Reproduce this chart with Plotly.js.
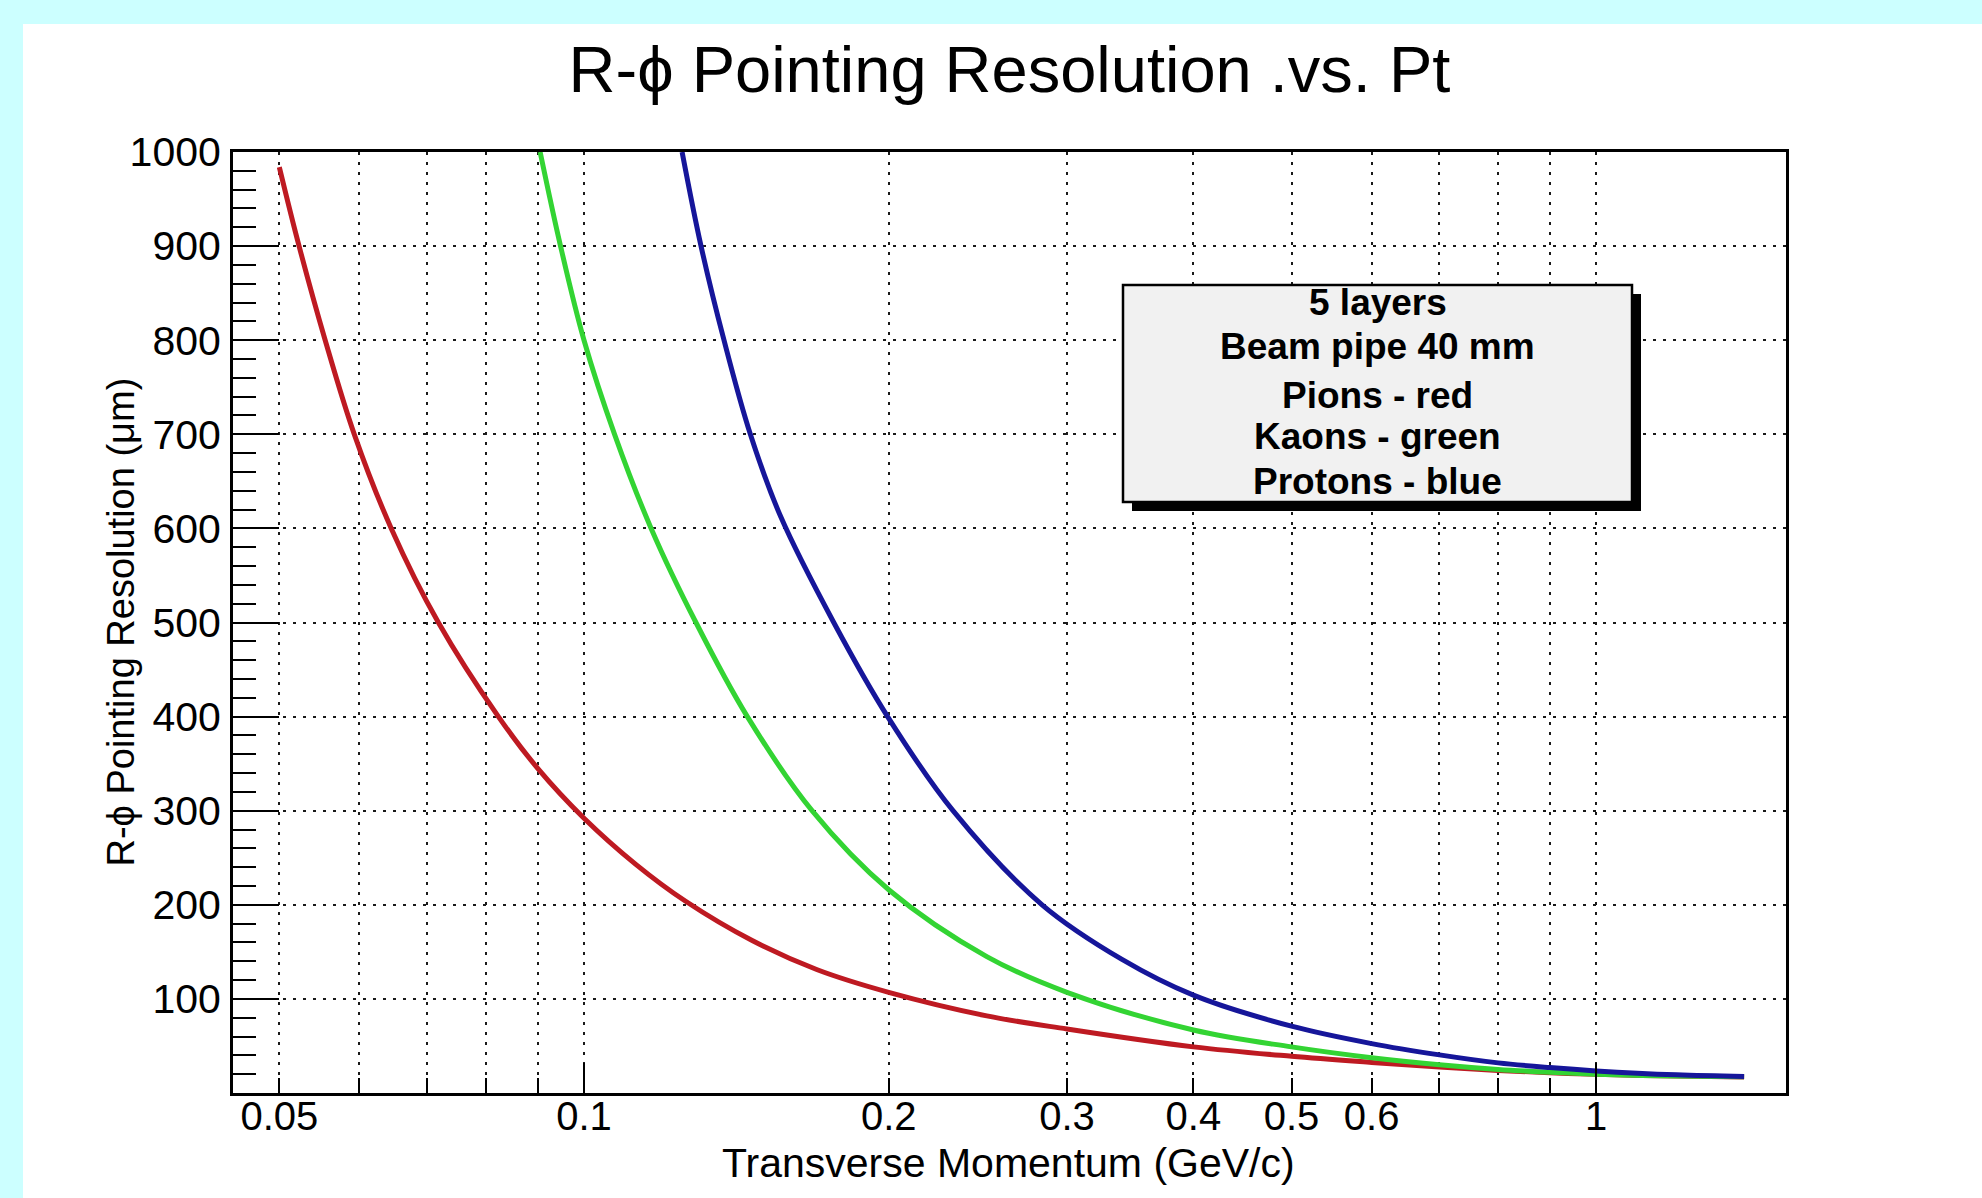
<!DOCTYPE html>
<html>
<head>
<meta charset="utf-8">
<script src="https://cdn.plot.ly/plotly-3.0.1.min.js"></script>
<style>
html,body{margin:0;padding:0;background:#ccffff;}
#chart{width:1982px;height:1198px;}
</style>
</head>
<body>
<div id="chart"></div>
<script>
// ---- data ----
const pionPt  = [0.05, 0.0523, 0.0555, 0.0593, 0.0645, 0.0718, 0.0823, 0.09, 0.1, 0.1125, 0.1259, 0.1466, 0.17, 0.2, 0.25, 0.3, 0.4, 0.5, 0.6, 0.7, 0.8, 0.9, 1.0, 1.2, 1.4];
const pionRes = [984, 900, 800, 700, 600, 500, 400, 345, 292, 243, 204, 162, 131, 107, 82, 68, 49, 39, 32.5, 27.5, 24, 21.5, 19.8, 18, 17];

const kaonPt  = [0.0905, 0.0948, 0.1, 0.1072, 0.1165, 0.129, 0.145, 0.168, 0.2, 0.25, 0.3, 0.4, 0.5, 0.6, 0.7, 0.8, 0.9, 1.0, 1.2, 1.4];
const kaonRes = [1000, 900, 800, 700, 600, 500, 400, 300, 216, 145, 107, 67, 49, 37.5, 30, 25, 22, 20, 18, 17.2];

const protonPt  = [0.125, 0.1305, 0.1375, 0.146, 0.1565, 0.1765, 0.1995, 0.2315, 0.2835, 0.34, 0.4, 0.5, 0.6, 0.7, 0.8, 0.9, 1.0, 1.2, 1.4];
const protonRes = [1000, 900, 800, 700, 612, 500, 400, 300, 200, 142, 104, 71, 52.5, 40.5, 32, 27, 23.5, 19.3, 17.5];

const xTickVals = [0.05, 0.06, 0.07, 0.08, 0.09, 0.1, 0.2, 0.3, 0.4, 0.5, 0.6, 0.7, 0.8, 0.9, 1];
const xTickText = ['0.05', '', '', '', '', '0.1', '0.2', '0.3', '0.4', '0.5', '0.6', '', '', '', '1'];
const xDecadeTicks = [0.1, 1];
const yTickVals = [100, 200, 300, 400, 500, 600, 700, 800, 900, 1000];
const yTickText = ['100', '200', '300', '400', '500', '600', '700', '800', '900', '1000'];

const titleText = 'R-\u03d5 Pointing Resolution .vs. Pt';
const xTitle = 'Transverse Momentum (GeV/c)';
const yTitle = 'R-\u03d5 Pointing Resolution (\u03bcm)';
const boxLines = ['5 layers', 'Beam pipe 40 mm', 'Pions - red', 'Kaons - green', 'Protons - blue'];

// ---- helpers ----
const FONT = 'Liberation Sans, Arial, Helvetica, sans-serif';
const yMinor = [];
for (let v = 20; v < 1000; v += 20) { if (v % 100 !== 0) yMinor.push(v); }

const xRange = [Math.log10(0.045), Math.log10(1.54)];

const W = 1982, H = 1198, ML = 233, MR = 196, MT = 152, MB = 105;
const PW = W - ML - MR, PH = H - MT - MB;
const px2x = p => (p - ML) / PW;
const py2y = p => (H - MB - p) / PH;

function curve(x, y, color) {
  return {x: x, y: y, type: 'scatter', mode: 'lines',
          line: {color: color, width: 5, shape: 'spline', smoothing: 1.0},
          hoverinfo: 'x+y'};
}

const traces = [
  curve(pionPt, pionRes, '#be1a22'),
  curve(kaonPt, kaonRes, '#33d433'),
  curve(protonPt, protonRes, '#16169a'),
  {x: [], y: [], xaxis: 'x2', yaxis: 'y', type: 'scatter', mode: 'lines', hoverinfo: 'skip'}
];

const gridCommon = {showgrid: true, gridcolor: '#1a1a1a', gridwidth: 2, griddash: '3px,7px'};

const boxL = 1123, boxR = 1632, boxT = 285, boxB = 502, sh = 9;
const lineY = [302, 346, 395, 437, 481];

const shapes = [
  {type: 'rect', xref: 'paper', yref: 'paper', layer: 'below',
   x0: px2x(23), x1: px2x(1990), y0: py2y(24), y1: py2y(1205),
   fillcolor: 'white', line: {width: 0}},
  {type: 'rect', xref: 'paper', yref: 'paper', layer: 'above',
   x0: px2x(boxL + sh), x1: px2x(boxR + sh), y0: py2y(boxB + sh), y1: py2y(boxT + sh),
   fillcolor: 'black', line: {width: 0}},
  {type: 'rect', xref: 'paper', yref: 'paper', layer: 'above',
   x0: px2x(boxL), x1: px2x(boxR), y0: py2y(boxB), y1: py2y(boxT),
   fillcolor: '#f1f1f1', line: {color: 'black', width: 2.5}}
];

const annotations = [
  {text: yTitle, xref: 'paper', yref: 'paper', x: px2x(120), y: 0.5,
   xanchor: 'center', yanchor: 'middle', textangle: -90, showarrow: false,
   font: {family: FONT, size: 38, color: 'black'}},
  {text: xTitle, xref: 'paper', yref: 'paper', x: px2x(1008), y: py2y(1163),
   xanchor: 'center', yanchor: 'middle', showarrow: false,
   font: {family: FONT, size: 41, color: 'black'}}
];
boxLines.forEach((t, i) => {
  annotations.push({text: '<b>' + t + '</b>', xref: 'paper', yref: 'paper',
    x: px2x((boxL + boxR) / 2), y: py2y(lineY[i]), xanchor: 'center', yanchor: 'middle',
    showarrow: false, font: {family: FONT, size: 37, color: 'black'}});
});

const layout = {
  width: W, height: H,
  margin: {l: ML, r: MR, t: MT, b: MB, pad: 0},
  paper_bgcolor: '#ccffff',
  plot_bgcolor: 'white',
  showlegend: false,
  title: {text: titleText, font: {family: FONT, size: 65, color: 'black'},
          x: 0.5, xref: 'paper', xanchor: 'center', y: 1 - 69 / H, yref: 'container', yanchor: 'middle'},
  xaxis: Object.assign({
    type: 'log', range: xRange, tickmode: 'array', tickvals: xTickVals, ticktext: xTickText,
    ticks: 'inside', ticklen: 15, tickwidth: 2, tickcolor: 'black',
    showline: true, mirror: true, linewidth: 3, linecolor: 'black', zeroline: false,
    tickfont: {family: FONT, size: 40, color: 'black'}, ticklabelstandoff: -14,
    automargin: false
  }, gridCommon),
  xaxis2: {
    type: 'log', range: xRange, overlaying: 'x', anchor: 'y', side: 'bottom',
    tickmode: 'array', tickvals: xDecadeTicks, showticklabels: false,
    ticks: 'inside', ticklen: 30, tickwidth: 2, tickcolor: 'black',
    showgrid: false, showline: false, zeroline: false
  },
  yaxis: Object.assign({
    range: [0, 1000], tickmode: 'array', tickvals: yTickVals, ticktext: yTickText,
    ticks: 'inside', ticklen: 46, tickwidth: 2, tickcolor: 'black',
    minor: {tickmode: 'array', tickvals: yMinor, ticks: 'inside', ticklen: 23, tickwidth: 2,
            tickcolor: 'black', showgrid: false},
    showline: true, mirror: true, linewidth: 3, linecolor: 'black', zeroline: false,
    tickfont: {family: FONT, size: 41, color: 'black'}, ticklabelstandoff: 1,
    automargin: false
  }, gridCommon),
  shapes: shapes,
  annotations: annotations
};

Plotly.newPlot('chart', traces, layout, {displayModeBar: false, staticPlot: true});
</script>
</body>
</html>
